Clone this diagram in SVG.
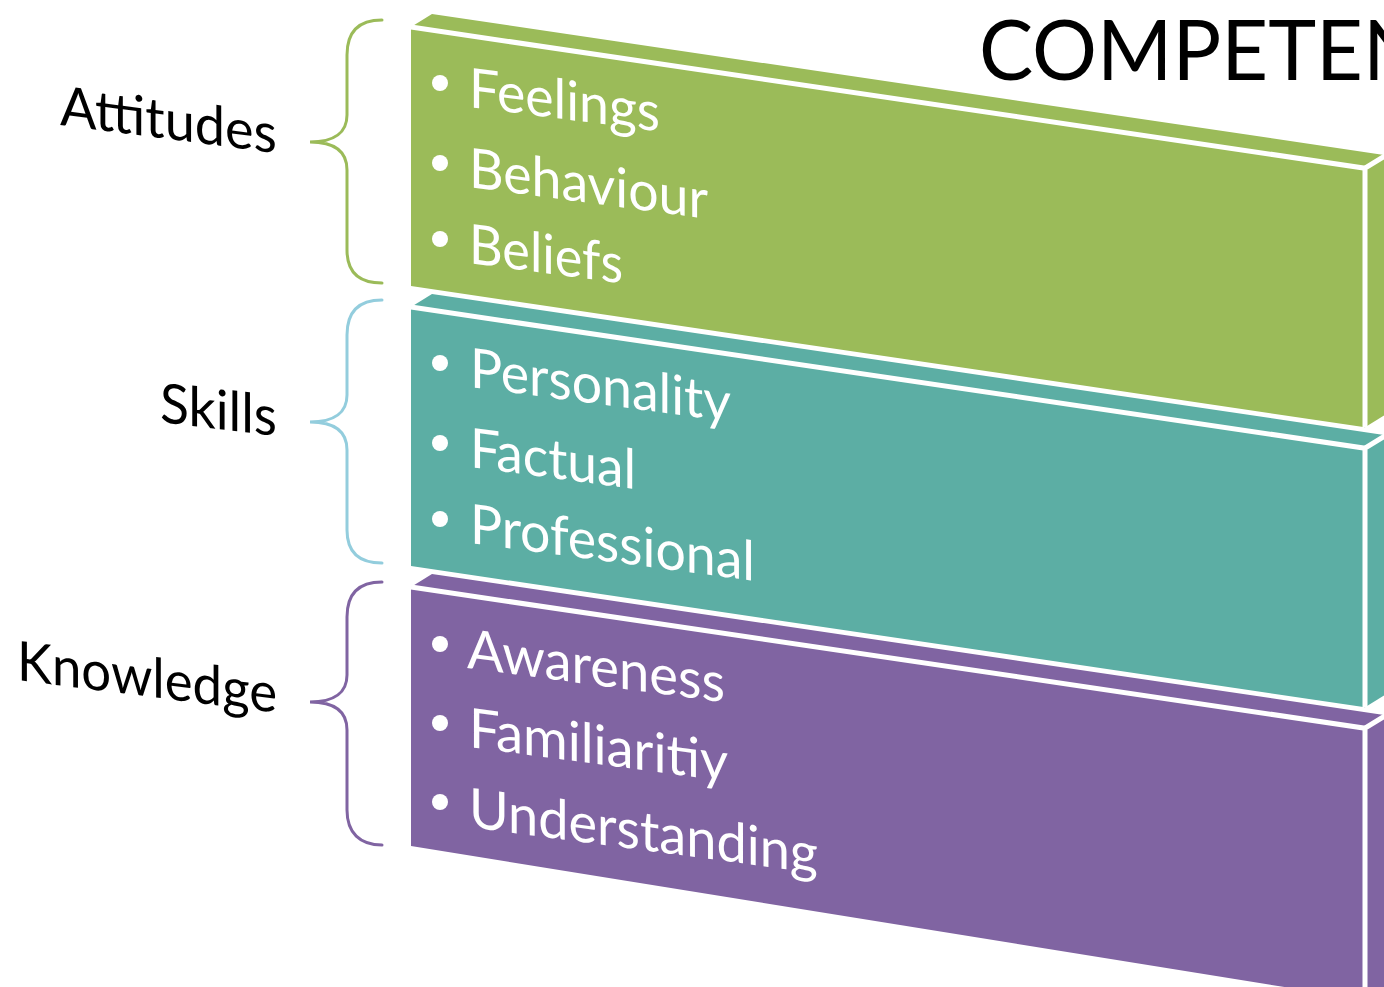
<svg xmlns="http://www.w3.org/2000/svg" width="1384" height="987" viewBox="0 0 1384 987">
<style>
.sep{fill:none;stroke:#ffffff;stroke-width:5;stroke-linejoin:miter}
.g{fill:#9BBB59}.t{fill:#5CAEA4}.p{fill:#8064A2}
.item{font-family:Lato,"Open Sans",sans-serif;font-size:55px;fill:#ffffff}
.lbl{font-family:Lato,"Open Sans",sans-serif;font-size:55px;fill:#000000}
.title{font-family:Lato,"Open Sans",sans-serif;font-size:84px;fill:#000000}
.brace{fill:none;stroke-width:3;stroke-linecap:round}
</style>
<rect width="1384" height="987" fill="#ffffff"/>
<g id="title"><text class="title" x="979" y="80" textLength="446" lengthAdjust="spacingAndGlyphs">COMPETEN</text></g>
<g id="box-attitudes">
<polygon class="g" points="411,27 1365,168.2 1365,427.2 411,286"/>
<polygon class="g" points="411,27 432,14 1386,155.2 1365,168.2"/>
<polygon class="g" points="1365,168.2 1386,155.2 1386,414.2 1365,427.2"/>
<path class="sep" d="M411,27 L1365,168.2 L1365,427.2 M1365,168.2 L1388,154"/>
<g fill="#ffffff"><circle cx="440" cy="83" r="8"/><circle cx="440" cy="163" r="8"/><circle cx="440" cy="239" r="8"/></g>
<text class="item" x="469" y="107" textLength="191" lengthAdjust="spacingAndGlyphs" transform="matrix(1,0.128,0,1,0,-60.0)">Feelings</text>
<text class="item" x="469" y="187" textLength="239" lengthAdjust="spacingAndGlyphs" transform="matrix(1,0.133,0,1,0,-62.4)">Behaviour</text>
<text class="item" x="469" y="263" textLength="154" lengthAdjust="spacingAndGlyphs" transform="matrix(1,0.133,0,1,0,-62.4)">Beliefs</text>
</g>
<g id="box-skills">
<polygon class="t" points="411,307 1365,448.2 1365,707.2 411,566"/>
<polygon class="t" points="411,307 432,294 1386,435.2 1365,448.2"/>
<polygon class="t" points="1365,448.2 1386,435.2 1386,694.2 1365,707.2"/>
<path class="sep" d="M411,307 L1365,448.2 L1365,707.2 M1365,448.2 L1388,434"/>
<g fill="#ffffff"><circle cx="440" cy="363" r="8"/><circle cx="440" cy="443" r="8"/><circle cx="440" cy="519" r="8"/></g>
<text class="item" x="470" y="387" textLength="261" lengthAdjust="spacingAndGlyphs" transform="matrix(1,0.133,0,1,0,-62.5)">Personality</text>
<text class="item" x="470" y="467" textLength="166" lengthAdjust="spacingAndGlyphs" transform="matrix(1,0.133,0,1,0,-62.5)">Factual</text>
<text class="item" x="470" y="543" textLength="285" lengthAdjust="spacingAndGlyphs" transform="matrix(1,0.133,0,1,0,-62.5)">Professional</text>
</g>
<g id="box-knowledge">
<polygon class="p" points="411,587 1365,728.2 1365,1000 411,846"/>
<polygon class="p" points="411,587 432,574 1386,715.2 1365,728.2"/>
<polygon class="p" points="1365,728.2 1386,715.2 1386,1000 1365,1000"/>
<path class="sep" d="M411,587 L1365,728.2 L1365,1000 M1365,728.2 L1388,714"/>
<g fill="#ffffff"><circle cx="440" cy="644" r="8"/><circle cx="440" cy="723" r="8"/><circle cx="440" cy="802" r="8"/></g>
<text class="item" x="467" y="668" textLength="258" lengthAdjust="spacingAndGlyphs" transform="matrix(1,0.133,0,1,0,-62.1)">Awareness</text>
<text class="item" x="469" y="747" textLength="259" lengthAdjust="spacingAndGlyphs" transform="matrix(1,0.133,0,1,0,-62.4)">Familiaritiy</text>
<text class="item" x="469" y="827" textLength="349" lengthAdjust="spacingAndGlyphs" transform="matrix(1,0.133,0,1,0,-62.4)">Understanding</text>
</g>
<g id="label-attitudes"><text class="lbl" x="60" y="125" textLength="217" lengthAdjust="spacingAndGlyphs" transform="matrix(1,0.13,0,1,0,-7.8)">Attitudes</text></g>
<g id="label-skills"><text class="lbl" x="160" y="422" textLength="117" lengthAdjust="spacingAndGlyphs" transform="matrix(1,0.12,0,1,0,-19.2)">Skills</text></g>
<g id="label-knowledge"><text class="lbl" x="17" y="680" textLength="260" lengthAdjust="spacingAndGlyphs" transform="matrix(1,0.126,0,1,0,-2.1)">Knowledge</text></g>
<g id="connectors">
<path class="brace" stroke="#9BBB59" d="M382,20 C360,20 347,30 347,55 L347,115 C347,132 335,142 310,142 C335,142 347,152 347,170 L347,250 C347,273 360,283 382,283"/>
<path class="brace" stroke="#93CDDD" d="M382,300 C360,300 347,310 347,335 L347,395 C347,412 335,422 310,422 C335,422 347,432 347,450 L347,530 C347,553 360,563 382,563"/>
<path class="brace" stroke="#8064A2" d="M382,582 C360,582 347,592 347,617 L347,675 C347,692 335,702 310,702 C335,702 347,712 347,730 L347,810 C347,833 360,845 382,845"/>
</g>
</svg>
